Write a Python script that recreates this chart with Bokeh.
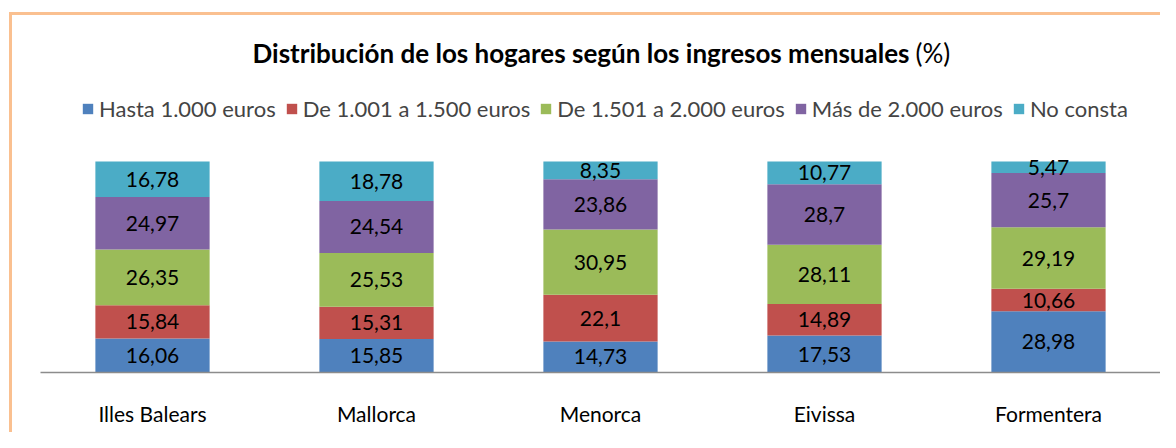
from bokeh.plotting import figure
from bokeh.models import (ColumnDataSource, LabelSet, Label, Legend, LegendItem, FactorRange,
                          Range1d, InlineStyleSheet)
from bokeh.core.properties import value
from bokeh.embed import file_html
from bokeh.resources import INLINE

categories = ["Illes Balears", "Mallorca", "Menorca", "Eivissa", "Formentera"]
series_names = ["Hasta 1.000 euros", "De 1.001 a 1.500 euros", "De 1.501 a 2.000 euros",
                "Más de 2.000 euros", "No consta"]
hasta_1000 = [16.06, 15.85, 14.73, 17.53, 28.98]
de_1001_1500 = [15.84, 15.31, 22.1, 14.89, 10.66]
de_1501_2000 = [26.35, 25.53, 30.95, 28.11, 29.19]
mas_2000 = [24.97, 24.54, 23.86, 28.7, 25.7]
no_consta = [16.78, 18.78, 8.35, 10.77, 5.47]
label_texts = [
    ["16,06", "15,85", "14,73", "17,53", "28,98"],
    ["15,84", "15,31", "22,1", "14,89", "10,66"],
    ["26,35", "25,53", "30,95", "28,11", "29,19"],
    ["24,97", "24,54", "23,86", "28,7", "25,7"],
    ["16,78", "18,78", "8,35", "10,77", "5,47"],
]
colors = ["#4F81BD", "#C0504D", "#9BBB59", "#8064A2", "#4BACC6"]
keys = ["s0", "s1", "s2", "s3", "s4"]
series = [hasta_1000, de_1001_1500, de_1501_2000, mas_2000, no_consta]

FONT = "Lato"
W, H = 1160, 432
FRAME_BOTTOM = 372          # pixel row of the baseline
BAR_PX = 211                # pixel height of a 100 % stack
Y_TOP = 100 * FRAME_BOTTOM / BAR_PX

data = {"cat": categories}
for k, s in zip(keys, series):
    data[k] = s
source = ColumnDataSource(data)

p = figure(width=W, height=H, x_range=FactorRange(*categories), y_range=Range1d(0, Y_TOP),
           output_backend="svg", toolbar_location=None, tools="",
           min_border_left=40, min_border_right=0, min_border_top=0,
           min_border_bottom=H - FRAME_BOTTOM)
p.outline_line_color = None
p.xgrid.grid_line_color = None
p.ygrid.grid_line_color = None
p.yaxis.visible = False
p.x_range.range_padding = 0

renderers = p.vbar_stack(keys, x="cat", width=0.51, color=colors, source=source, line_color=None)

for i, (k, texts) in enumerate(zip(keys, label_texts)):
    mids = []
    for j in range(len(categories)):
        base = sum(series[m][j] for m in range(i))
        mids.append(base + series[i][j] / 2)
    ls = ColumnDataSource(dict(x=categories, y=mids, t=texts))
    p.add_layout(LabelSet(x="x", y="y", text="t", source=ls, text_align="center",
                          text_baseline="middle", text_font=value(FONT),
                          text_font_size="21px", text_color="#000000"))

ax = p.xaxis[0]
ax.axis_line_color = "#8C8C8C"
ax.axis_line_width = 1.5
ax.major_tick_line_color = None
ax.minor_tick_line_color = None
ax.major_tick_out = 0
ax.major_label_standoff = 28
ax.major_label_text_font = FONT
ax.major_label_text_font_size = "21px"
ax.major_label_text_color = "#000000"

legend = Legend(items=[LegendItem(label=n, renderers=[r]) for n, r in zip(series_names, renderers)],
                orientation="horizontal", location=(41, 250), padding=0, margin=0,
                spacing=9, glyph_width=13, glyph_height=13, label_standoff=5,
                label_text_font=FONT, label_text_font_size="22px", label_height=20,
                border_line_color=None, background_fill_alpha=0)
p.add_layout(legend, "center")

p.add_layout(Label(x=869, y=FRAME_BOTTOM - 52, x_units="screen", y_units="screen",
                   text="Distribución de los hogares según los ingresos mensuales",
                   text_align="right", text_baseline="alphabetic", text_font=FONT,
                   text_font_style="bold", text_font_size="26px", text_color="#000000"))
p.add_layout(Label(x=875, y=FRAME_BOTTOM - 52, x_units="screen", y_units="screen", text="(%)",
                   text_align="left", text_baseline="alphabetic", text_font=FONT,
                   text_font_size="26px", text_color="#000000"))

p.styles = {"position": "relative"}
p.stylesheets = [InlineStyleSheet(css="""
:host::after {
  content: "";
  position: absolute;
  left: 9px; top: 12px; right: 0px; bottom: 0px;
  border-left: 3px solid #FAC090;
  border-top: 3px solid #FAC090;
  pointer-events: none;
  z-index: 5;
}
""")]

open("out.html", "w").write(file_html(p, INLINE))
